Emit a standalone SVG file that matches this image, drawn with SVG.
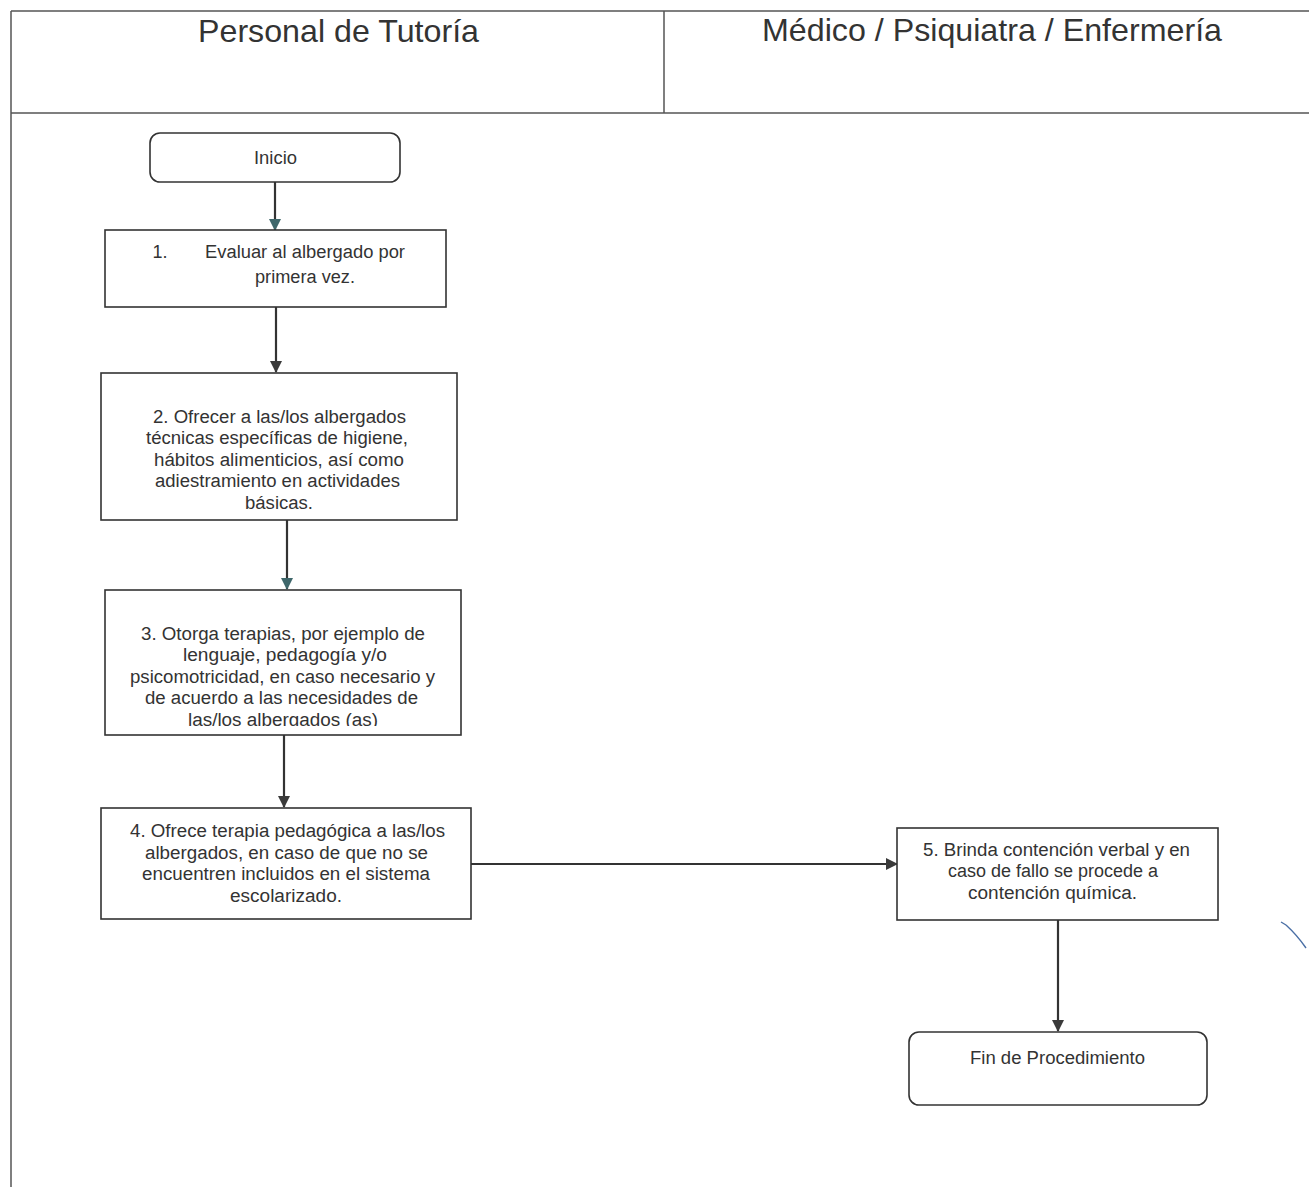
<svg xmlns="http://www.w3.org/2000/svg" width="1309" height="1187" viewBox="0 0 1309 1187">
  <style>
    .frame { fill: none; stroke: #555; stroke-width: 1.5; }
    .box { fill: #fff; stroke: #333; stroke-width: 1.6; }
    .lane-title { font-family: "Liberation Sans", Arial, sans-serif; font-size: 32px; fill: #333; text-anchor: middle; }
    .lbl { font-family: "Liberation Sans", Arial, sans-serif; font-size: 18px; fill: #333; text-anchor: middle; }
    .edge { fill: none; stroke: #333; stroke-width: 2.2; }
  </style>
  <defs>
    <marker id="arrow" viewBox="0 0 12 12" refX="11" refY="6" markerWidth="12" markerHeight="12" markerUnits="userSpaceOnUse" orient="auto">
      <path d="M0,0 L12,6 L0,12 Z" fill="#3a3a3a"/>
    </marker>
    <marker id="arrowTeal" viewBox="0 0 12 12" refX="11" refY="6" markerWidth="12" markerHeight="12" markerUnits="userSpaceOnUse" orient="auto">
      <path d="M0,0 L12,6 L0,12 Z" fill="#3f676b"/>
    </marker>
    <clipPath id="clip3">
      <rect x="105" y="590" width="356" height="136"/>
    </clipPath>
  </defs>

  <rect width="1309" height="1187" fill="#fff"/>

  <!-- swimlane frame -->
  <g id="lanes">
    <line class="frame" x1="11" y1="11" x2="1309" y2="11"/>
    <line class="frame" x1="11" y1="11" x2="11" y2="1187"/>
    <line class="frame" x1="11" y1="113" x2="1309" y2="113"/>
    <line class="frame" x1="664" y1="11" x2="664" y2="113"/>
    <text class="lane-title" x="338.5" y="42" textLength="281" lengthAdjust="spacingAndGlyphs">Personal de Tutoría</text>
    <text class="lane-title" x="992" y="41" textLength="460" lengthAdjust="spacingAndGlyphs">Médico / Psiquiatra / Enfermería</text>
  </g>

  <!-- connectors -->
  <g id="connectors">
    <line class="edge" x1="275" y1="182" x2="275" y2="230" marker-end="url(#arrowTeal)"/>
    <line class="edge" x1="276" y1="307" x2="276" y2="372" marker-end="url(#arrow)"/>
    <line class="edge" x1="287" y1="520" x2="287" y2="589" marker-end="url(#arrowTeal)"/>
    <line class="edge" x1="284" y1="735" x2="284" y2="807" marker-end="url(#arrow)"/>
    <line class="edge" x1="471" y1="864" x2="897" y2="864" marker-end="url(#arrow)"/>
    <line class="edge" x1="1058" y1="920" x2="1058" y2="1031" marker-end="url(#arrow)"/>
  </g>

  <g id="inicio">
    <rect class="box" x="150" y="133" width="250" height="49" rx="10"/>
    <text class="lbl" x="275.5" y="164" textLength="43" lengthAdjust="spacingAndGlyphs">Inicio</text>
  </g>

  <g id="paso1">
    <rect class="box" x="105" y="230" width="341" height="77"/>
    <text class="lbl" x="160" y="258">1.</text>
    <text class="lbl" x="305" y="258" textLength="200" lengthAdjust="spacingAndGlyphs">Evaluar al albergado por</text>
    <text class="lbl" x="305" y="283" textLength="100" lengthAdjust="spacingAndGlyphs">primera vez.</text>
  </g>

  <g id="paso2">
    <rect class="box" x="101" y="373" width="356" height="147"/>
    <text class="lbl" x="279.5" y="423" textLength="253" lengthAdjust="spacingAndGlyphs">2. Ofrecer a las/los albergados</text>
    <text class="lbl" x="277" y="444" textLength="262" lengthAdjust="spacingAndGlyphs">técnicas específicas de higiene,</text>
    <text class="lbl" x="279" y="466" textLength="250" lengthAdjust="spacingAndGlyphs">hábitos alimenticios, así como</text>
    <text class="lbl" x="277.5" y="487" textLength="245" lengthAdjust="spacingAndGlyphs">adiestramiento en actividades</text>
    <text class="lbl" x="279" y="509" textLength="68" lengthAdjust="spacingAndGlyphs">básicas.</text>
  </g>

  <g id="paso3">
    <rect class="box" x="105" y="590" width="356" height="145"/>
    <g clip-path="url(#clip3)">
      <text class="lbl" x="283" y="640" textLength="284" lengthAdjust="spacingAndGlyphs">3. Otorga terapias, por ejemplo de</text>
      <text class="lbl" x="285" y="661" textLength="204" lengthAdjust="spacingAndGlyphs">lenguaje, pedagogía y/o</text>
      <text class="lbl" x="282.5" y="683" textLength="305" lengthAdjust="spacingAndGlyphs">psicomotricidad, en caso necesario y</text>
      <text class="lbl" x="281.5" y="704" textLength="273" lengthAdjust="spacingAndGlyphs">de acuerdo a las necesidades de</text>
      <text class="lbl" x="283" y="726" textLength="190" lengthAdjust="spacingAndGlyphs">las/los albergados (as)</text>
    </g>
  </g>

  <g id="paso4">
    <rect class="box" x="101" y="808" width="370" height="111"/>
    <text class="lbl" x="287.5" y="837" textLength="315" lengthAdjust="spacingAndGlyphs">4. Ofrece terapia pedagógica a las/los</text>
    <text class="lbl" x="286.5" y="859" textLength="283" lengthAdjust="spacingAndGlyphs">albergados, en caso de que no se</text>
    <text class="lbl" x="286" y="880" textLength="288" lengthAdjust="spacingAndGlyphs">encuentren incluidos en el sistema</text>
    <text class="lbl" x="286" y="902" textLength="112" lengthAdjust="spacingAndGlyphs">escolarizado.</text>
  </g>

  <g id="paso5">
    <rect class="box" x="897" y="828" width="321" height="92"/>
    <text class="lbl" x="1056.5" y="856" textLength="267" lengthAdjust="spacingAndGlyphs">5. Brinda contención verbal y en</text>
    <text class="lbl" x="1053" y="877" textLength="210" lengthAdjust="spacingAndGlyphs">caso de fallo se procede a</text>
    <text class="lbl" x="1052.5" y="899" textLength="169" lengthAdjust="spacingAndGlyphs">contención química.</text>
  </g>

  <g id="fin">
    <rect class="box" x="909" y="1032" width="298" height="73" rx="10"/>
    <text class="lbl" x="1057.5" y="1064" textLength="175" lengthAdjust="spacingAndGlyphs">Fin de Procedimiento</text>
  </g>

  <!-- pen stroke in the margin -->
  <path d="M1281,922 L1286,925 M1286,925 Q1297,935 1306,948" fill="none" stroke="#4a6fa5" stroke-width="1.4"/>
</svg>
